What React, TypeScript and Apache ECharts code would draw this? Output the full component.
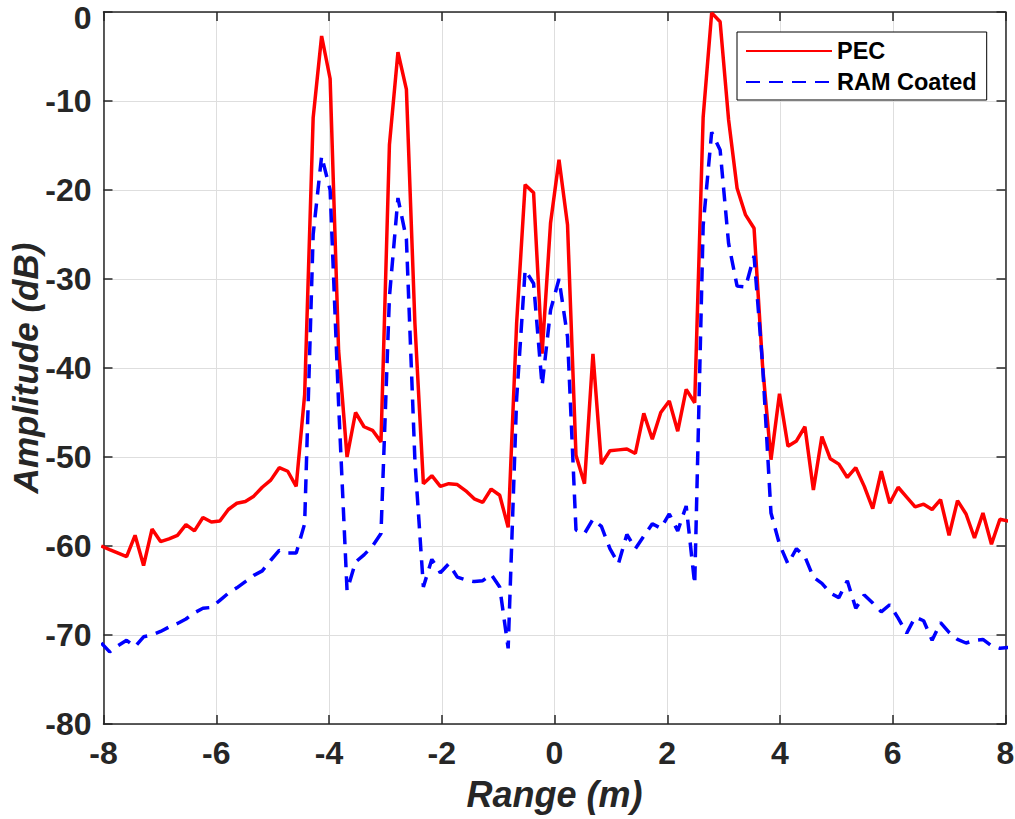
import React, { useEffect, useRef } from "react";
import * as echarts from "echarts";

// Range sample positions (m)
const rangeM = [
  -8.041, -7.891, -7.740, -7.590, -7.440, -7.289, -7.139, -6.988, -6.838, -6.688,
  -6.537, -6.387, -6.236, -6.086, -5.936, -5.785, -5.635, -5.484, -5.334, -5.184,
  -5.033, -4.883, -4.732, -4.582, -4.432, -4.281, -4.131, -3.980, -3.830, -3.680,
  -3.529, -3.379, -3.228, -3.078, -2.928, -2.777, -2.627, -2.476, -2.326, -2.176,
  -2.025, -1.875, -1.724, -1.574, -1.424, -1.273, -1.123, -0.972, -0.822, -0.672,
  -0.521, -0.371, -0.220, -0.070, 0.080, 0.231, 0.381, 0.532, 0.682, 0.832,
  0.983, 1.133, 1.284, 1.434, 1.584, 1.735, 1.885, 2.036, 2.186, 2.336,
  2.487, 2.637, 2.788, 2.938, 3.088, 3.239, 3.389, 3.540, 3.690, 3.840,
  3.991, 4.141, 4.292, 4.442, 4.592, 4.743, 4.893, 5.044, 5.194, 5.344,
  5.495, 5.645, 5.796, 5.946, 6.096, 6.247, 6.397, 6.548, 6.698, 6.848,
  6.999, 7.149, 7.300, 7.450, 7.600, 7.751, 7.901, 8.052,
];

// PEC amplitude (dB)
const pecDb = [
  -60.0, -60.4, -60.8, -61.2, -58.8, -62.2, -58.1, -59.5, -59.2, -58.8,
  -57.6, -58.3, -56.8, -57.3, -57.2, -55.9, -55.2, -55.0, -54.4, -53.4,
  -52.6, -51.2, -51.6, -53.3, -43.0, -11.9, -2.7, -7.5, -38.0, -50.0,
  -45.0, -46.6, -47.0, -48.3, -14.9, -4.5, -8.7, -35.0, -53.0, -52.1,
  -53.3, -53.0, -53.1, -53.8, -54.7, -55.1, -53.6, -54.3, -57.9, -35.0,
  -19.4, -20.3, -38.4, -23.7, -16.6, -23.9, -49.8, -53.0, -38.4, -50.8,
  -49.3, -49.2, -49.1, -49.6, -45.1, -48.0, -45.0, -43.7, -47.1, -42.4,
  -43.9, -11.8, -0.1, -1.1, -12.1, -19.8, -22.8, -24.3, -39.7, -50.3,
  -42.9, -48.8, -48.2, -46.6, -53.7, -47.7, -50.2, -50.8, -52.3, -51.2,
  -53.3, -55.8, -51.6, -55.2, -53.4, -54.5, -55.6, -55.3, -55.9, -54.8,
  -58.8, -54.9, -56.4, -59.1, -56.3, -59.8, -57.0, -57.2,
];

// RAM coated amplitude (dB)
const ramDb = [
  -70.9, -71.9, -71.2, -70.6, -71.3, -70.2, -70.0, -69.6, -69.1, -68.7,
  -68.2, -67.5, -67.0, -66.9, -66.1, -65.3, -64.7, -64.0, -63.3, -62.8,
  -61.6, -60.5, -60.8, -60.8, -57.5, -25.0, -16.2, -20.0, -44.0, -65.0,
  -61.8, -61.0, -60.0, -58.6, -32.0, -20.9, -25.5, -50.4, -64.6, -61.5,
  -63.0, -62.0, -63.5, -63.8, -64.0, -63.9, -63.2, -64.6, -71.5, -43.5,
  -29.0, -30.5, -42.0, -33.5, -30.0, -36.5, -58.2, -58.6, -57.0, -57.8,
  -60.3, -62.0, -58.7, -60.3, -58.9, -57.5, -58.0, -56.4, -58.3, -55.5,
  -64.3, -24.0, -13.5, -15.5, -26.0, -30.8, -30.9, -27.4, -39.5, -56.3,
  -59.8, -62.0, -60.3, -61.2, -63.5, -64.2, -65.3, -65.8, -63.9, -67.0,
  -65.5, -66.4, -67.4, -66.6, -68.1, -69.8, -68.0, -68.4, -70.6, -68.6,
  -69.7, -70.5, -70.9, -70.6, -70.5, -71.2, -71.5, -71.4,
];

const seriesNames = ["PEC", "RAM Coated"];
const xLabel = "Range (m)";
const yLabel = "Amplitude (dB)";

const FONT = "'Liberation Sans', Arial, Helvetica, sans-serif";
const INK = "#262626";

export default function App() {
  const ref = useRef<HTMLDivElement>(null);

  useEffect(() => {
    if (!ref.current) return;
    const chart = echarts.init(ref.current, undefined, { renderer: "svg" });
    const axisLine = { show: true, onZero: false, lineStyle: { color: INK, width: 1.5 } };
    const tick = { show: true, inside: true, length: 9, lineStyle: { color: INK, width: 1.5 } };
    const label = { fontSize: 32, fontWeight: "bold" as const, color: INK, fontFamily: FONT };
    const split = { show: true, lineStyle: { color: "#dedede", width: 1 } };
    const nameStyle = {
      fontSize: 35,
      fontWeight: "bold" as const,
      fontStyle: "italic" as const,
      color: INK,
      fontFamily: FONT,
    };

    chart.setOption({
      animation: false,
      backgroundColor: "#ffffff",
      grid: {
        left: 103.5,
        right: 9.5,
        top: 12,
        bottom: 95,
        containLabel: false,
        outerBoundsMode: "none",
      },
      legend: {
        show: true,
        orient: "vertical",
        left: 737,
        top: 32,
        itemWidth: 86,
        itemHeight: 14,
        itemGap: 7,
        padding: [7, 10, 6, 8],
        borderColor: "#000000",
        borderWidth: 1,
        backgroundColor: "#ffffff",
        selectedMode: false,
        itemStyle: { opacity: 0 },
        textStyle: { fontSize: 23.5, fontWeight: "bold", color: "#000000", fontFamily: FONT },
        data: seriesNames,
      },
      xAxis: [
        {
          type: "value",
          min: -8,
          max: 8,
          interval: 2,
          position: "bottom",
          axisLine,
          axisTick: tick,
          axisLabel: { ...label, margin: 13 },
          splitLine: split,
          name: xLabel,
          nameLocation: "middle",
          nameGap: 52,
          nameMoveOverlap: false,
          nameTextStyle: { ...nameStyle, fontSize: 36 },
        },
        {
          type: "value",
          min: -8,
          max: 8,
          interval: 2,
          position: "top",
          axisLine,
          axisTick: tick,
          axisLabel: { show: false },
          splitLine: { show: false },
        },
      ],
      yAxis: [
        {
          type: "value",
          min: -80,
          max: 0,
          interval: 10,
          position: "left",
          axisLine,
          axisTick: tick,
          axisLabel: {
            ...label,
            margin: 12,
            formatter: (v: number) => (v === 0 ? "{t|0}" : String(v)),
            rich: {
              t: { ...label, lineHeight: 24, padding: [11, 0, 0, 0] },
            },
          },
          splitLine: split,
          name: yLabel,
          nameLocation: "middle",
          nameGap: 61,
          nameMoveOverlap: false,
          nameTextStyle: nameStyle,
        },
        {
          type: "value",
          min: -80,
          max: 0,
          interval: 10,
          position: "right",
          axisLine,
          axisTick: tick,
          axisLabel: { show: false },
          splitLine: { show: false },
        },
      ],
      series: [
        {
          name: seriesNames[0],
          type: "line",
          xAxisIndex: 0,
          yAxisIndex: 0,
          symbol: "none",
          clip: true,
          lineStyle: { color: "#ff0000", width: 3.5, type: "solid" },
          itemStyle: { color: "#ff0000" },
          data: rangeM.map((x, i) => [x, pecDb[i]]),
        },
        {
          name: seriesNames[1],
          type: "line",
          xAxisIndex: 0,
          yAxisIndex: 0,
          symbol: "none",
          clip: true,
          lineStyle: { color: "#0000ff", width: 3.5, type: [14, 9] },
          itemStyle: { color: "#0000ff" },
          data: rangeM.map((x, i) => [x, ramDb[i]]),
        },
      ],
    });
    return () => chart.dispose();
  }, []);

  return (
    <div
      ref={ref}
      style={{ position: "absolute", left: 0, top: 0, width: 1015, height: 819, background: "#fff" }}
    />
  );
}
